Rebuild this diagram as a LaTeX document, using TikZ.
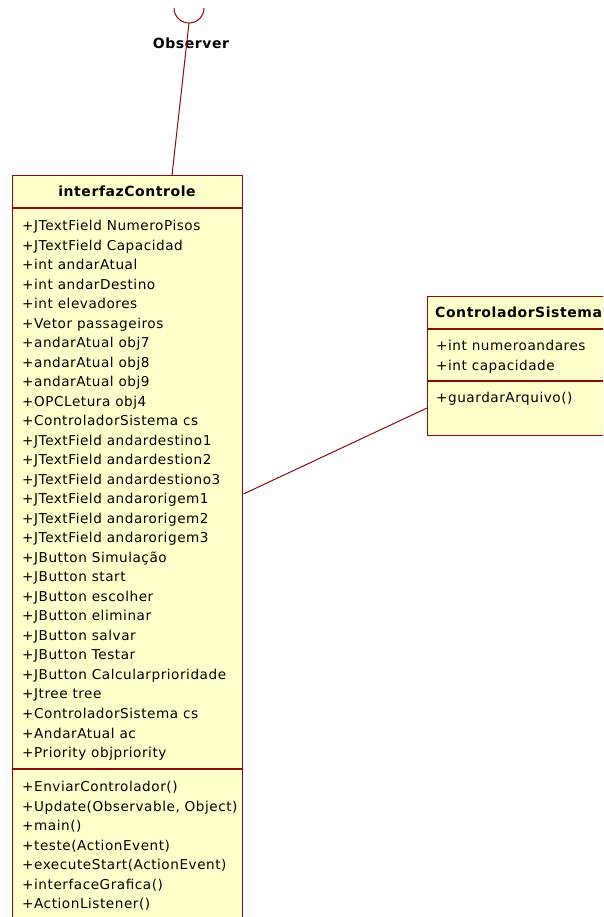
\documentclass[tikz,border=0pt]{standalone}
\usepackage{fontspec}
\setmainfont{DejaVu Sans}[LetterSpace=4]
\usetikzlibrary{calc}
\definecolor{umlred}{RGB}{140,10,10}
\definecolor{umlfill}{RGB}{255,255,204}
\begin{document}
\begin{tikzpicture}[x=1pt,y=-1pt,
  umlbox/.style={draw=umlred, fill=umlfill, line width=1.4pt, inner sep=0pt, anchor=north west},
  sepline/.style={draw=umlred, line width=1.4pt},
  assoc/.style={draw=umlred, line width=1pt},
  member/.style={font=\fontsize{13.6}{15}\selectfont, anchor=base west, inner sep=0pt},
  umltitle/.style={font=\fontsize{14}{16}\selectfont\bfseries, inner sep=0pt}]
\useasboundingbox (0,0) rectangle (603,917);
\clip (0,0) rectangle (603,917);
% interfazControle
\node[umlbox, minimum width=230pt, minimum height=760pt] (ic) at (12,175) {};
\draw[sepline] ($(ic.north west)+(0,33)$) -- ($(ic.north east)+(0,33)$);
\draw[sepline] ($(ic.north west)+(0,594)$) -- ($(ic.north east)+(0,594)$);
\node[umltitle, anchor=base] (icname) at (127,197) {interfazControle};
\foreach \t [count=\i] in {+JTextField NumeroPisos,+JTextField Capacidad,+int andarAtual,+int andarDestino,+int elevadores,+Vetor passageiros,+andarAtual obj7,+andarAtual obj8,+andarAtual obj9,+OPCLetura obj4,+ControladorSistema cs,+JTextField andardestino1,+JTextField andardestion2,+JTextField andardestiono3,+JTextField andarorigem1,+JTextField andarorigem2,+JTextField andarorigem3,+JButton Simulação,+JButton start,+JButton escolher,+JButton eliminar,+JButton salvar,+JButton Testar,+JButton Calcularprioridade,+Jtree tree,+ControladorSistema cs,+AndarAtual ac,+Priority objpriority}
  \node[member] (ica\i) at (22,{230.5+(\i-1)*19.52}) {\t};
\foreach \t [count=\i] in {+EnviarControlador(),{+Update(Observable, Object)},+main(),+teste(ActionEvent),+executeStart(ActionEvent),+interfaceGrafica(),+ActionListener()}
  \node[member] (icm\i) at (22,{791.5+(\i-1)*19.52}) {\t};
% ControladorSistema
\node[umlbox, minimum width=200pt, minimum height=139pt] (cs) at (427,296) {};
\draw[sepline] ($(cs.north west)+(0,33)$) -- ($(cs.north east)+(0,33)$);
\draw[sepline] ($(cs.north west)+(0,85)$) -- ($(cs.north east)+(0,85)$);
\node[umltitle, anchor=base west] (csname) at (435,317) {ControladorSistema};
\node[member] (csa1) at (436,350.5) {+int numeroandares};
\node[member] (csa2) at (436,370) {+int capacidade};
\node[member] (csm1) at (436,402.5) {+guardarArquivo()};
% Observer lollipop
\coordinate (obs) at (189,23);
\draw[assoc] (174,8) arc[start angle=180, end angle=360, radius=15pt];
\node[umltitle] (obslabel) at (191,43) {Observer};
\draw[assoc] (obs) -- ($(ic.north west)+(160,0)$);
% association
\draw[assoc] ($(ic.north east)+(0,319)$) -- ($(cs.north west)+(0,112)$);
\end{tikzpicture}
\end{document}
